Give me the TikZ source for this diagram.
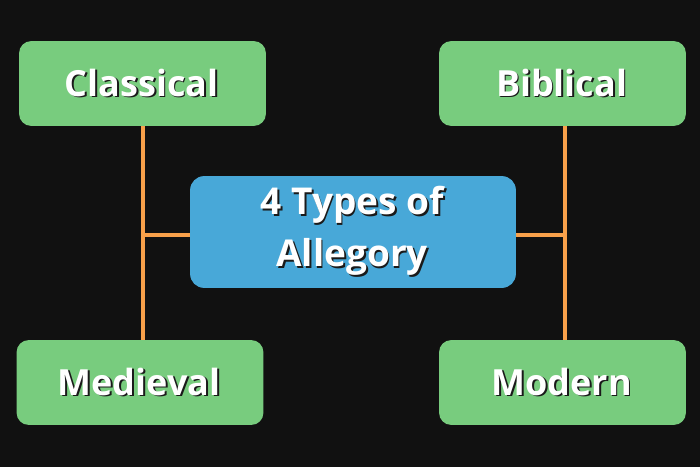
\documentclass[tikz,border=0pt]{standalone}
\usepackage{fontspec}
\setmainfont{Open Sans}
\definecolor{bg}{HTML}{111111}
\definecolor{boxgreen}{HTML}{78CC7E}
\definecolor{boxblue}{HTML}{48A8D8}
\definecolor{lineorange}{HTML}{F8A04A}
\definecolor{shadowc}{HTML}{1A1A1A}
\newcommand{\shtext}[1]{%
\begin{tikzpicture}[baseline=(t.base)]
\node[inner sep=0pt,text=shadowc,align=center] at (1.8pt,-1.8pt) {#1};
\node[inner sep=0pt,text=white,align=center] (t) at (0,0) {#1};
\end{tikzpicture}}
\begin{document}
\begin{tikzpicture}[x=1pt,y=-1pt,
  gbox/.style={fill=boxgreen,rounded corners=12pt,minimum width=245pt,minimum height=83pt,inner sep=0pt,font=\fontsize{36}{40}\selectfont\bfseries},
  bbox/.style={fill=boxblue,rounded corners=14pt,minimum width=324pt,minimum height=110pt,inner sep=0pt,font=\fontsize{37}{52}\selectfont\bfseries},
  conn/.style={draw=lineorange,line width=4pt}]
\fill[bg] (0,0) rectangle (700,467);
\useasboundingbox (0,0) rectangle (700,467);
\node[gbox] (cl) at (142.5,83.5) {\shtext{Classical}};
\node[gbox] (bi) at (562.5,83.5) {\shtext{Biblical}};
\node[gbox] (me) at (140,382.5) {\shtext{Medieval}};
\node[gbox] (mo) at (562.5,382.5) {\shtext{Modern}};
\coordinate (lj) at (143,235);
\coordinate (rj) at (565,235);
\draw[conn] (cl.south -| lj) -- (me.north -| lj);
\draw[conn] (bi.south -| rj) -- (mo.north -| rj);
\node[bbox] (c) at (353,232) {\shtext{4 Types of\\Allegory}};
\draw[conn] (lj) -- (c.west |- lj);
\draw[conn] (c.east |- rj) -- (rj);
\end{tikzpicture}
\end{document}
